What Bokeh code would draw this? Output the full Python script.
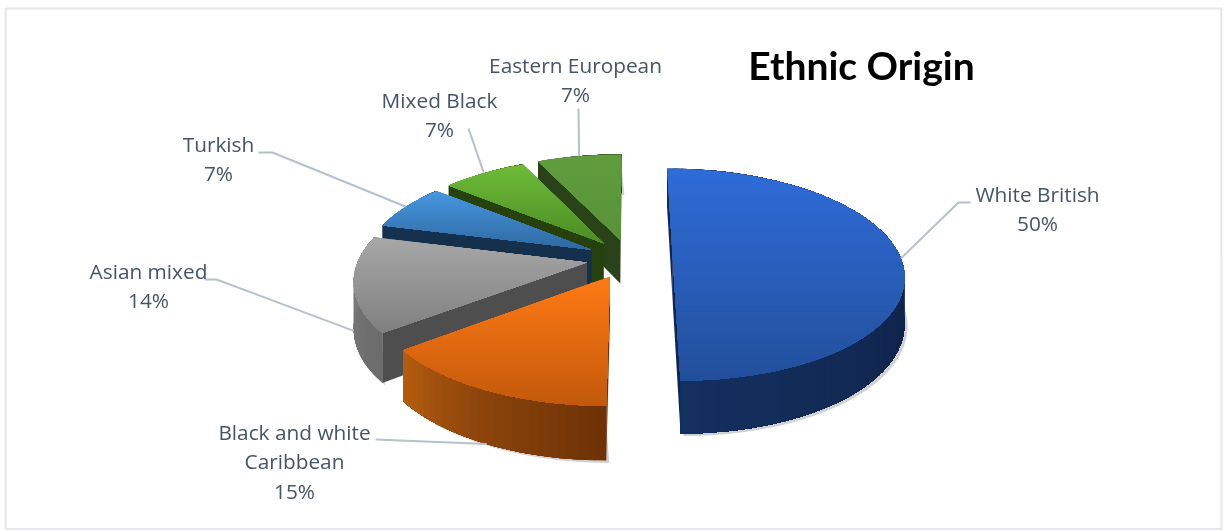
import math
from bokeh.plotting import figure
from bokeh.models import Range1d
from bokeh.embed import file_html
from bokeh.resources import INLINE
from bokeh.core.properties import value

# ---- data ----
categories = ["White British", "Black and white Caribbean", "Asian mixed", "Turkish", "Mixed Black", "Eastern European"]
shares = [50, 14.55, 14.45, 7, 7, 7]

# ---- styling ----
top_hi = ["#2f6cd8", "#ff7a14", "#a8a8a8", "#4798e2", "#6dbc38", "#609c3e"]
top_lo = ["#224f9b", "#c2590c", "#7f7f7f", "#2f689f", "#4d8c25", "#5a9239"]
wall_a = ["#112754", "#6e3207", "#6c6c6c", "#16304f", "#28420f", "#2a4218"]
wall_mid = ["#0e2146", "#8a430b", "#767676", "#16304f", "#28420f", "#2a4218"]
wall_b = ["#14305f", "#b45d10", "#808080", "#16304f", "#28420f", "#2a4218"]
face_c = ["#10264f", "#6e3207", "#4e4e4e", "#15304d", "#26400e", "#2a4218"]
LABEL = "#44546a"
LEADER = "#b4c0d2"

W, H = 1224, 531
CX, CY = 629.0, 258.0
RX, RY = 228.0, 103.6
PERSP = 0.151
EXPLODE = 0.19
DEPTH = 45.0
START = 0.0


def proj(X, Y, z=0.0):
    s = 1.0 / (1.0 - PERSP * Y)
    return CX + RX * X * s, CY + RY * Y * s + DEPTH * z * s


def lerp_hex(a, b, t):
    ca = [int(a[i:i + 2], 16) for i in (1, 3, 5)]
    cb = [int(b[i:i + 2], 16) for i in (1, 3, 5)]
    return "#%02x%02x%02x" % tuple(round(u + (v - u) * t) for u, v in zip(ca, cb))


def clip_y(poly, y0):
    out = []
    n = len(poly)
    for i in range(n):
        a, b = poly[i], poly[(i + 1) % n]
        ia, ib = a[1] >= y0, b[1] >= y0
        if ia:
            out.append(a)
        if ia != ib:
            t = (y0 - a[1]) / (b[1] - a[1])
            out.append((a[0] + (b[0] - a[0]) * t, y0))
    return out


total = sum(shares)
slices = []
ang = START
for v in shares:
    sweep = 360.0 * v / total
    slices.append((ang, ang + sweep))
    ang += sweep


def point(i, deg, r=1.0, z=0.0):
    a0, a1 = slices[i]
    mid = math.radians((a0 + a1) / 2)
    ox, oy = EXPLODE * math.sin(mid), -EXPLODE * math.cos(mid)
    t = math.radians(deg)
    return proj(ox + r * math.sin(t), oy - r * math.cos(t), z)


p = figure(width=W, height=H, output_backend="svg", toolbar_location=None,
           x_range=Range1d(0, W), y_range=Range1d(H, 0), min_border=0,
           outline_line_color=None, background_fill_color="white", border_fill_color="white")
p.styles = {"position": "fixed", "left": "0px", "top": "0px"}
p.axis.visible = False
p.grid.visible = False

# chart frame: fractions of the picture
p.quad(left=[W * 0.0042], right=[W * 0.9975], top=[H * 0.0150], bottom=[H * 0.9955],
       fill_color=None, line_color="#e4e7ef", line_width=2)

xs, ys, fills, alphas = [], [], [], []


def add(poly, color, alpha=1.0):
    if len(poly) < 3:
        return
    xs.append([q[0] for q in poly])
    ys.append([q[1] for q in poly])
    fills.append(color)
    alphas.append(alpha)


# painter's order: back slices first
for i in [5, 4, 3, 2, 1, 0]:
    a0, a1 = slices[i]
    n = max(12, int((a1 - a0) / 2))
    degs = [a0 + (a1 - a0) * k / n for k in range(n + 1)]

    # soft drop shadow of the extruded rim
    sh = [point(i, d, 1.0, 1.0) for d in degs]
    low = [(q[0] + 3, q[1] + 2.5) for q in sh]
    high = [point(i, d, 1.0, 0.3) for d in degs]
    add(low + high[::-1], "#9a9a9a", 0.45)

    # cut faces
    for d in (a0, a1):
        add([point(i, d, 0, 0), point(i, d, 1, 0), point(i, d, 1, 1), point(i, d, 0, 1)], face_c[i])

    # outer wall: overlapping strips, each reaching to the slice's end, so no seams appear
    for k in range(n):
        arc = degs[k:]
        q = [point(i, d, 1, 0) for d in arc] + [point(i, d, 1, 1) for d in arc[::-1]]
        t = (k + 0.5) / n
        col = lerp_hex(wall_a[i], wall_mid[i], t * 2) if t < 0.5 else lerp_hex(wall_mid[i], wall_b[i], t * 2 - 1)
        add(q, col)

    # top: vertical gradient, each band overlapping all those below it
    poly = [point(i, a0, 0)] + [point(i, d) for d in degs]
    ymin, ymax = min(q[1] for q in poly), max(q[1] for q in poly)
    bands = 40
    for b in range(bands):
        y0 = ymin + (ymax - ymin) * b / bands
        add(clip_y(poly, y0) if b else poly, lerp_hex(top_hi[i], top_lo[i], (b + 0.5) / bands))

p.patches(xs, ys, fill_color=fills, fill_alpha=alphas, line_color=None)

# leader lines: from the slice's mid-angle on the rim to the label elbow
elbows = [
    [(958, 202), (970, 202)],
    [(375, 439)],
    [(216, 279), (204, 279)],
    [(272, 152), (258, 152)],
    [(468, 128)],
    [(578, 108)],
]
rim_z = [0, 1, 1, 0, 0, 0]
for i, e in enumerate(elbows):
    s = point(i, sum(slices[i]) / 2, 1.0, rim_z[i])
    pts = [s] + e
    p.line([q[0] for q in pts], [q[1] for q in pts], line_color=LEADER, line_width=2)

# labels
label_lines = [
    ["White British", "50%"],
    ["Black and white", "Caribbean", "15%"],
    ["Asian mixed", "14%"],
    ["Turkish", "7%"],
    ["Mixed Black", "7%"],
    ["Eastern European", "7%"],
]
label_pos = [(1037, 193), (294, 431), (148, 270), (218, 143), (439, 99), (575, 64)]
LINE_H = 29.6
tx, ty, tt = [], [], []
for lines_, (lx, ly) in zip(label_lines, label_pos):
    for j, t in enumerate(lines_):
        tx.append(lx)
        ty.append(ly + j * LINE_H)
        tt.append(t)
p.text(tx, ty, text=tt, text_font=value("Open Sans"), text_font_size="20.8px",
       text_color=LABEL, text_align="center", text_baseline="middle")

p.text([861], [64], text=["Ethnic Origin"], text_font=value("Lato"), text_font_size="39px",
       text_font_style="bold", text_color="#000000", text_align="center", text_baseline="middle")

open("out.html", "w").write(file_html(p, INLINE))
